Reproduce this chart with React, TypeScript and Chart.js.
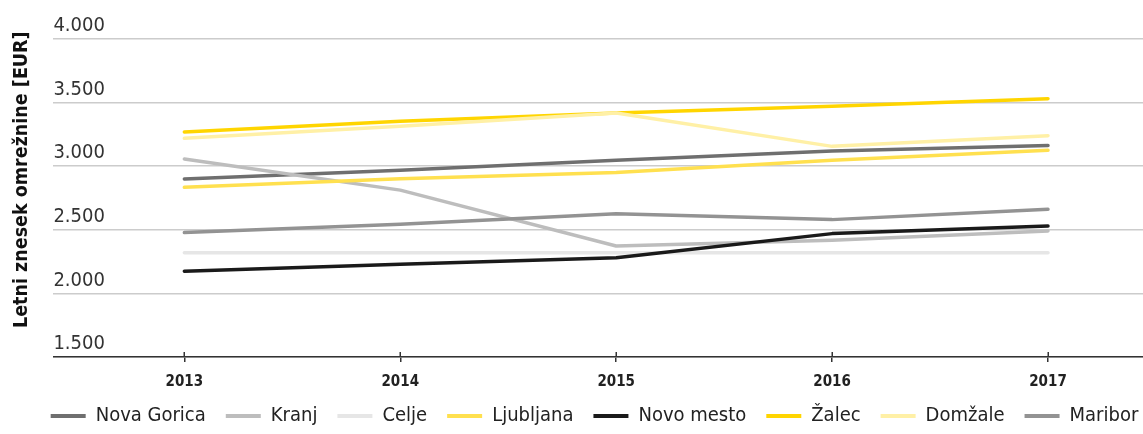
import React, { useEffect, useRef } from "react";
import { Chart, registerables } from "chart.js";

Chart.register(...registerables);

const years = [2013, 2014, 2015, 2016, 2017];
const yTickValues = [1500, 2000, 2500, 3000, 3500, 4000];
const yTickLabels = ["1.500", "2.000", "2.500", "3.000", "3.500", "4.000"];

const seriesNames = ["Nova Gorica", "Kranj", "Celje", "Ljubljana", "Novo mesto", "Žalec", "Domžale", "Maribor"];
const novaGorica = [2900, 2968, 3046, 3120, 3162];
const kranj = [3057, 2812, 2373, 2417, 2491];
const celje = [2320, 2320, 2320, 2320, 2320];
const ljubljana = [2834, 2902, 2950, 3046, 3125];
const novoMesto = [2174, 2229, 2281, 2470, 2530];
const zalec = [3269, 3353, 3418, 3471, 3531];
const domzale = [3219, 3314, 3418, 3156, 3240];
const maribor = [2478, 2543, 2627, 2580, 2661];

const seriesValues = [novaGorica, kranj, celje, ljubljana, novoMesto, zalec, domzale, maribor];
const seriesColors = ["#6f6f6f", "#bdbdbd", "#e6e6e6", "#ffe04f", "#1a1a1a", "#ffd500", "#fff0a6", "#939393"];

const FONT = "'DejaVu Sans Condensed', 'Liberation Sans Narrow', 'Roboto', sans-serif";

const axisDecor = {
  id: "axisDecor",
  afterLayout(chart: any) {
    const l = chart.legend;
    if (l) {
      l.left += 23;
      l.right += 23;
    }
  },
  afterDraw(chart: any) {
    const x = chart.scales.x;
    const ctx = chart.ctx;
    ctx.save();
    ctx.strokeStyle = "#333333";
    ctx.lineWidth = 1.5;
    years.forEach((yr) => {
      const px = Math.round(x.getPixelForValue(yr)) + 0.25;
      ctx.beginPath();
      ctx.moveTo(px, x.top - 5);
      ctx.lineTo(px, x.top);
      ctx.stroke();
    });
    ctx.restore();
  },
};

export default function App() {
  const ref = useRef<HTMLCanvasElement | null>(null);

  useEffect(() => {
    if (!ref.current) return;
    const datasets = seriesNames.map((name, i) => ({
      label: name,
      data: years.map((x, j) => ({ x, y: seriesValues[i][j] })),
      borderColor: seriesColors[i],
      backgroundColor: seriesColors[i],
      borderWidth: 3.5,
      pointRadius: 0,
      pointHoverRadius: 0,
      tension: 0,
      borderCapStyle: "round" as const,
      borderJoinStyle: "round" as const,
      order: -i,
    }));

    const chart = new Chart(ref.current, {
      type: "line",
      data: { datasets },
      plugins: [axisDecor],
      options: {
        animation: false,
        responsive: false,
        layout: { padding: { top: 39, left: 0, right: 0, bottom: -2 } },
        font: { family: FONT },
        scales: {
          x: {
            type: "linear",
            min: 2012.3935,
            max: 2017.44,
            afterBuildTicks: (scale: any) => {
              scale.ticks = years.map((v) => ({ value: v }));
            },
            afterFit: (scale: any) => {
              scale.height = 29;
            },
            grid: {
              drawOnChartArea: false,
              drawTicks: true,
              tickLength: 5,
              color: "#333333",
              lineWidth: 1.5,
            },
            border: { display: true, color: "#333333", width: 1.5 },
            ticks: {
              padding: 11,
              color: "#222222",
              font: { family: FONT, size: 15, weight: "bold" },
              callback: (v: any) => String(v),
              maxRotation: 0,
            },
          },
          y: {
            type: "linear",
            min: 1500,
            max: 4000,
            afterBuildTicks: (scale: any) => {
              scale.ticks = yTickValues.map((v) => ({ value: v }));
            },
            grid: { drawTicks: false, color: "#cccccc", lineWidth: 1.5 },
            border: { display: false },
            ticks: {
              mirror: true,
              padding: 0,
              labelOffset: -13,
              color: "#333333",
              font: { family: FONT, size: 20 },
              callback: (v: any) => yTickLabels[yTickValues.indexOf(Number(v))],
            },
            title: {
              display: true,
              text: "      Letni znesek omrežnine [EUR]",
              color: "#111111",
              font: { family: FONT, size: 19.5, weight: "bold" },
              padding: { top: 10, bottom: 20 },
            },
          },
        },
        plugins: {
          tooltip: { enabled: false },
          legend: {
            position: "bottom",
            labels: {
              boxWidth: 35,
              boxHeight: 4,
              padding: 20,
              color: "#222222",
              font: { family: FONT, size: 20 },
              sort: (a: any, b: any) => a.datasetIndex - b.datasetIndex,
              generateLabels: (c: any) =>
                (Chart.defaults.plugins.legend.labels.generateLabels as any)(c).map((l: any) => ({
                  ...l,
                  lineWidth: 0,
                })),
            },
          },
        },
      },
    });
    return () => chart.destroy();
  }, []);

  return (
    <div style={{ position: "absolute", left: 0, top: 0, width: 1143, height: 434 }}>
      <canvas ref={ref} width={1143} height={434} style={{ display: "block", width: 1143, height: 434 }} />
    </div>
  );
}
